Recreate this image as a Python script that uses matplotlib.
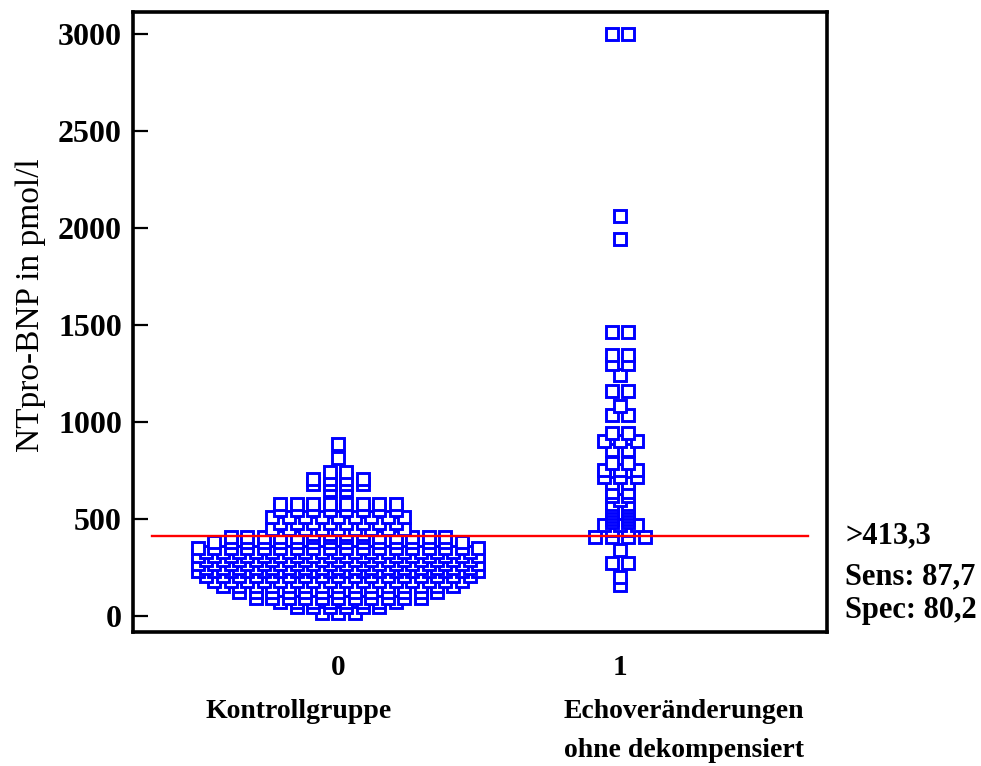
import numpy as np
import matplotlib
matplotlib.use("Agg")
import matplotlib.pyplot as plt

plt.rcParams['font.family'] = ['Liberation Serif', 'DejaVu Serif']
plt.rcParams['font.weight'] = 'bold'

# NTpro-BNP (pmol/l): levels and how many patients sit side by side at each level
control_levels = [18, 45, 70, 95, 125, 155, 180, 205, 230, 250, 270, 290, 309, 330, 350,
                  381, 410, 425, 450, 480, 510, 545, 577, 650, 680, 705, 742, 815, 887]
control_counts = [3, 6, 8, 11, 13, 15, 16, 17, 18, 17, 18, 17, 18, 17, 18,
                  16, 14, 4, 9, 8, 9, 8, 8, 2, 4, 4, 2, 1, 1]

echo_levels = [160, 200, 273, 340, 410, 445, 470, 485, 500, 515, 530, 545, 560, 580, 600,
               620, 640, 685, 715, 755, 790, 855, 905, 945, 1035, 1085, 1160, 1245,
               1300, 1345, 1465, 1945, 2060, 3000]
echo_counts = [1, 1, 2, 1, 4, 2, 3, 2, 2, 2, 2, 2, 2, 2, 1,
               2, 2, 2, 3, 3, 2, 2, 3, 2, 2, 1, 2, 1,
               2, 2, 2, 1, 1, 2]

group_positions = [0, 1]
group_ticklabels = ['0', '1']
group_name_lines = [('Kontrollgruppe', -0.138, -0.129),
                    ('Echoveränderungen', 1.227, -0.129),
                    ('ohne dekompensiert', 1.227, -0.192)]

cutoff = 413.3
cutoff_text = ['>413,3', 'Sens: 87,7', 'Spec: 80,2']


def dot_layout(levels, counts, center, pitch):
    """Spread equal values side by side around the group centre, lowest level first."""
    xs, ys = [], []
    for level, n in sorted(zip(levels, counts)):
        for i in range(n):
            xs.append(center + (i - (n - 1) / 2) * pitch)
            ys.append(level)
    return np.array(xs), np.array(ys)


fig = plt.figure(figsize=(9.81, 7.66), dpi=100)
ax = fig.add_axes([0.1356, 0.175, 0.7074, 0.809])

pitch = 0.0585
for pos, levels, counts in zip(group_positions,
                               [control_levels, echo_levels],
                               [control_counts, echo_counts]):
    x, y = dot_layout(levels, counts, pos, pitch)
    ax.plot(x, y, linestyle='none', marker='s', markersize=8.7,
            markerfacecolor='white', markeredgecolor='#0000ff', markeredgewidth=2.1)

ax.axhline(cutoff, xmin=0.027, xmax=0.973, color='#ff0000', linewidth=1.7, zorder=5)

ax.set_xlim(-0.727, 1.734)
ax.set_ylim(-82, 3113)
ax.set_yticks([0, 500, 1000, 1500, 2000, 2500, 3000])
ax.set_xticks(group_positions)
ax.set_xticklabels(group_ticklabels)
ax.tick_params(axis='y', direction='in', length=11, width=1.6, labelsize=23, pad=8)
ax.tick_params(axis='x', length=0, labelsize=21, pad=16)
for spine in ax.spines.values():
    spine.set_linewidth(2.6)

ax.set_ylabel('NTpro-BNP in pmol/l', fontsize=24)
ax.yaxis.set_label_coords(-0.125, 0.527)

# group names under the tick labels
for name, xpos, ypos in group_name_lines:
    ax.text(xpos, ypos, name, transform=ax.get_xaxis_transform(),
            ha='center', va='center', fontsize=20)

# cut-off summary at the right of the frame
for ypos, line in zip([0.155, 0.089, 0.034], cutoff_text):
    ax.text(1.026, ypos, line, transform=ax.transAxes,
            ha='left', va='center', fontsize=22)

fig.savefig('out.png', dpi=100)
